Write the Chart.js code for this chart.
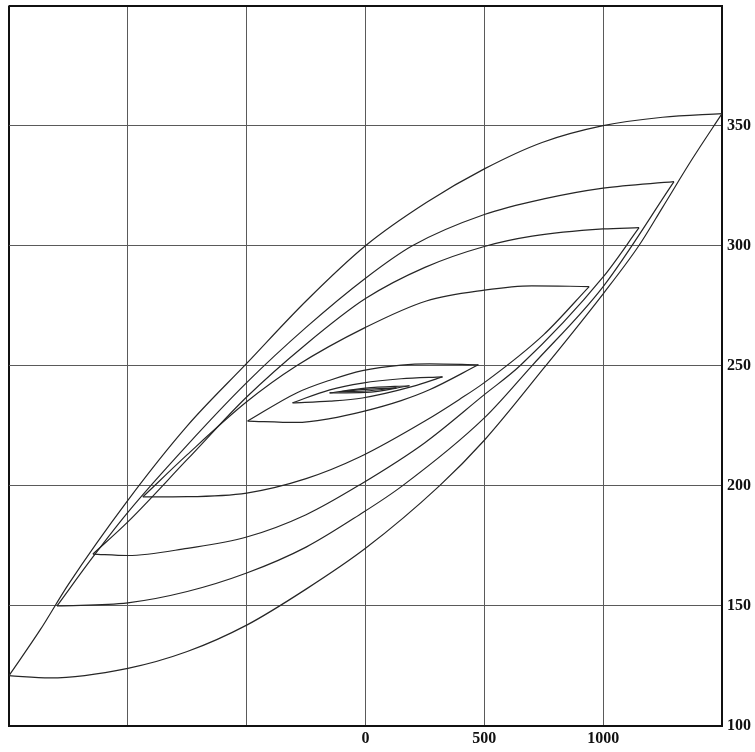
<!DOCTYPE html>
<html>
<head>
<meta charset="utf-8">
<script src="https://cdn.jsdelivr.net/npm/chart.js@4"></script>
<style>
  html, body { margin: 0; padding: 0; background: #fff; }
  #wrap { width: 755px; height: 752px; }
</style>
</head>
<body>
<div id="wrap"><canvas id="loops" width="755" height="752"></canvas></div>
<script>
// x ticks every 500, only 0 / 500 / 1000 are printed; y ticks on the right
const xLabelled = [0, 500, 1000];
const yLabelled = [100, 150, 200, 250, 300, 350];

// each loop: upper (descending) branch and lower (ascending) branch, listed left to right
const mainUpper = [[-1500,121],[-1369,140],[-1250,159],[-1000,194],[-750,225],[-500,251],[-250,277],[0,300],[256,318],[500,332],[743,343],[1000,350],[1250,353.5],[1500,355]];
const mainLower = [[-1500,121],[-1328,120],[-1000,124],[-750,131],[-500,142],[-250,157],[0,174],[311,200],[500,219],[750,249],[1000,280],[1150,300],[1250,316],[1374,336],[1500,355]];

const loop2Upper = [[-1298,150],[-1150,170],[-1000,189],[-750,217],[-500,243],[-250,266],[0,286.5],[197,300],[500,313],[750,319.5],[1000,324],[1298,326.7]];
const loop2Lower = [[-1298,150],[-1000,151.3],[-750,156],[-500,163.7],[-250,174.5],[-25,188],[155,200],[500,228.3],[700,250],[1000,283],[1298,326.7]];

const loop3Upper = [[-1147,171.6],[-1000,185],[-750,211],[-500,237],[-250,259],[0,278],[250,291],[500,299.7],[701,304],[1000,307],[1151,307.5]];
const loop3Lower = [[-1147,171.6],[-1000,171],[-750,174],[-500,178.7],[-250,188],[-25,200.4],[250,218],[500,238],[650,250],[1000,287],[1151,307.5]];

const loop4Upper = [[-937,195.4],[-750,213],[-500,235],[-290,250],[0,266],[256,277],[500,281.5],[700,283.3],[941,283]];
const loop4Lower = [[-937,195.4],[-750,195.5],[-500,197],[-250,203],[-25,212],[250,227],[395,236],[500,243],[750,263],[941,283]];

const loop5Upper = [[-496,227],[-290,238.7],[-150,244],[-13,248],[150,250.3],[269,250.8],[475,250.4]];
const loop5Lower = [[-496,227],[-290,226.4],[-150,228],[-13,230.9],[150,235.5],[269,240],[475,250.4]];

const loop6Upper = [[-307,234.6],[-150,240],[-13,242.8],[150,244.6],[324,245.4]];
const loop6Lower = [[-307,234.6],[-150,235.3],[-13,236.6],[199,241.4],[324,245.4]];

const loop7Upper = [[-151,238.7],[0,240.7],[185,241.7]];
const loop7Lower = [[-151,238.7],[0,238.9],[185,241.7]];

const loop8Upper = [[-110,239.2],[0,240.2],[130,240.8]];
const loop8Lower = [[-110,239.2],[0,239.5],[130,240.8]];

const branches = [
  mainUpper, mainLower, loop2Upper, loop2Lower, loop3Upper, loop3Lower,
  loop4Upper, loop4Lower, loop5Upper, loop5Lower, loop6Upper, loop6Lower,
  loop7Upper, loop7Lower, loop8Upper, loop8Lower
];

const datasets = branches.map(b => ({
  data: b.map(([x, y]) => ({ x, y })),
  showLine: true,
  borderColor: "#262626",
  borderWidth: 1.2,
  pointRadius: 0,
  cubicInterpolationMode: "monotone",
  fill: false
}));

const serif = "'Liberation Serif', 'DejaVu Serif', serif";
const labelFont = { family: serif, size: 16, weight: "bold" };

new Chart(document.getElementById("loops"), {
  type: "scatter",
  data: { datasets },
  options: {
    responsive: false,
    animation: false,
    layout: { padding: { left: 9, top: 5, right: 0, bottom: 0 } },
    plugins: { legend: { display: false }, tooltip: { enabled: false } },
    scales: {
      x: {
        type: "linear",
        min: -1500,
        max: 1500,
        ticks: {
          stepSize: 500,
          autoSkip: false,
          maxRotation: 0,
          padding: 3,
          color: "#111",
          font: labelFont,
          callback: v => xLabelled.includes(v) ? String(v) : ""
        },
        grid: {
          drawTicks: false,
          color: c => (c.tick && Math.abs(c.tick.value) === 1500) ? "#111" : "#5a5a5a",
          lineWidth: c => (c.tick && Math.abs(c.tick.value) === 1500) ? 2 : 1
        },
        border: { display: true, color: "#111", width: 2 },
        afterFit: s => { s.height = 26; }
      },
      y: {
        type: "linear",
        position: "right",
        min: 100,
        max: 400,
        ticks: {
          stepSize: 50,
          autoSkip: false,
          padding: 5,
          color: "#111",
          // unlabelled top tick gets a tiny font so it does not push the plot down
          font: c => (c.tick && yLabelled.includes(c.tick.value)) ? labelFont : { family: serif, size: 1 },
          callback: v => yLabelled.includes(v) ? String(v) : ""
        },
        grid: {
          drawTicks: false,
          color: c => (c.tick && (c.tick.value === 400 || c.tick.value === 100)) ? "#111" : "#5a5a5a",
          lineWidth: c => (c.tick && (c.tick.value === 400 || c.tick.value === 100)) ? 2 : 1
        },
        border: { display: true, color: "#111", width: 2 },
        afterFit: s => { s.width = 33; }
      }
    }
  }
});
</script>
</body>
</html>
